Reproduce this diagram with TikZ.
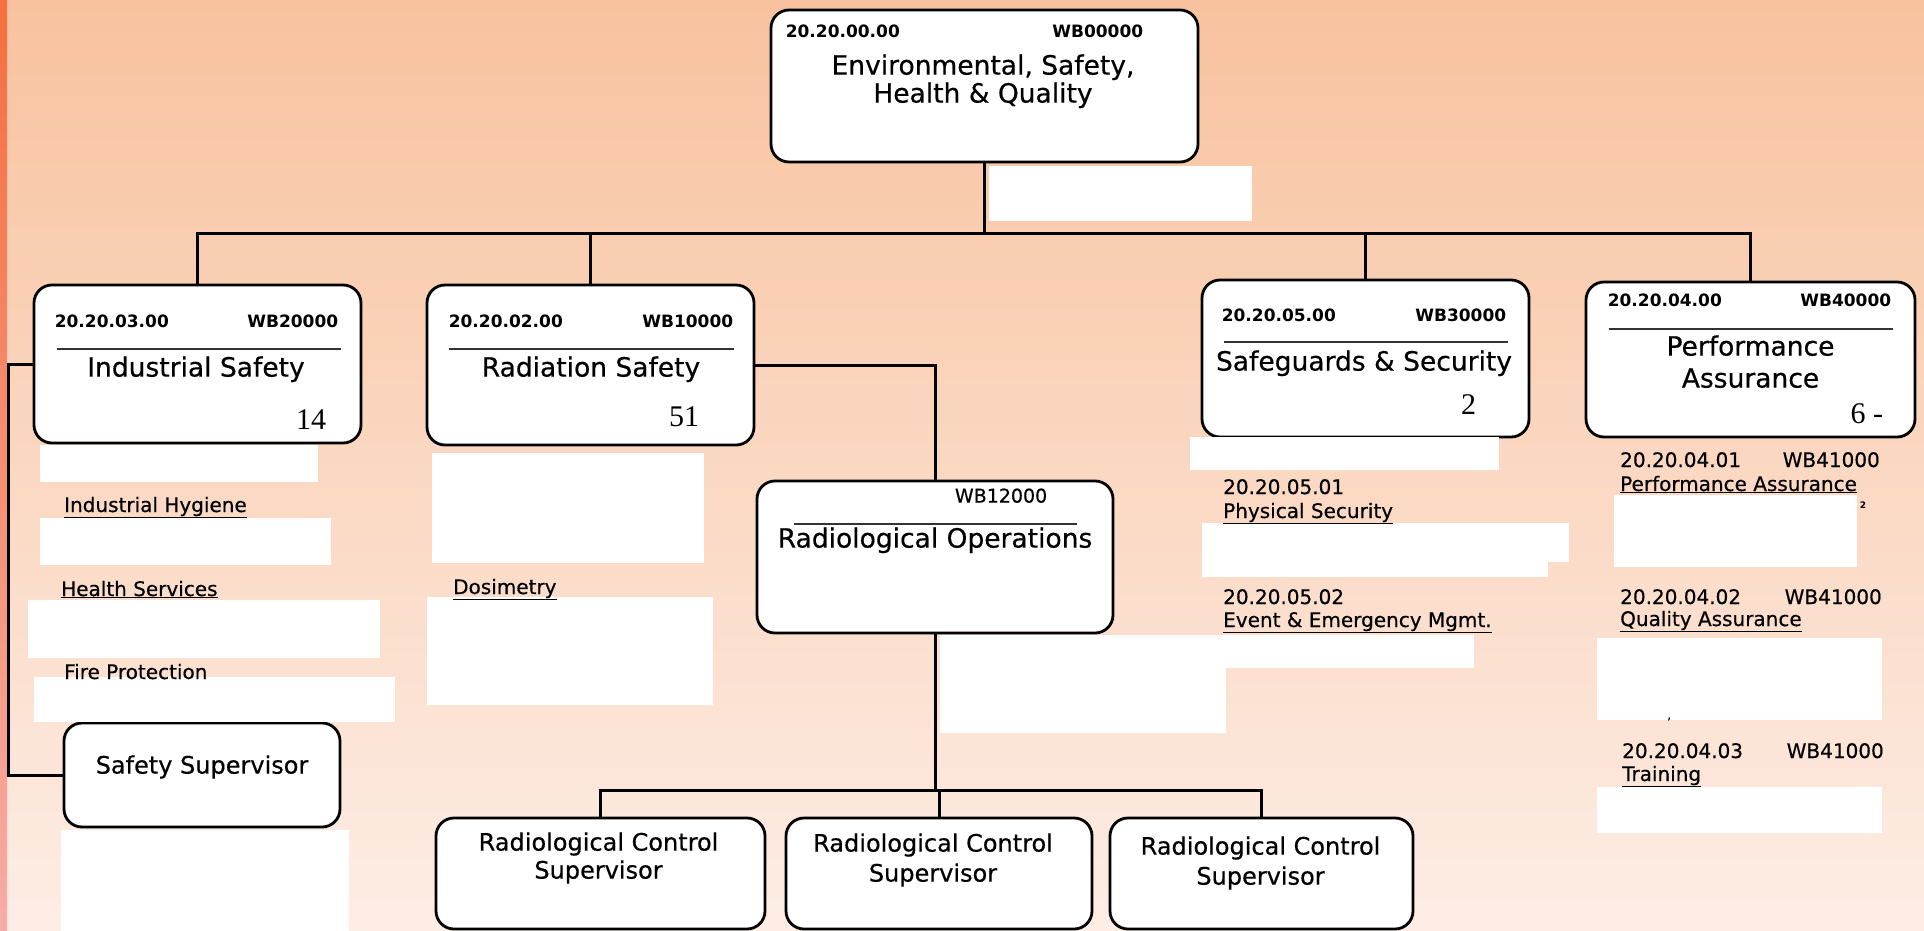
\documentclass[tikz,border=0pt]{standalone}
\usepackage{fontspec}
\setmainfont{DejaVu Sans}[UprightFeatures={FakeBold=0.5}]
\newfontfamily\numfont{Liberation Serif}
\usepackage{tikz}
\usetikzlibrary{calc}
\usetikzlibrary{positioning}
\definecolor{bgtop}{HTML}{F8C29E}
\definecolor{bgmid}{HTML}{FAD2BA}
\definecolor{bgbot}{HTML}{FDEDE5}
\definecolor{edgetop}{HTML}{F4703E}
\definecolor{edgebot}{HTML}{F6ACA6}
\tikzstyle{unitnode} = [draw, line width=2.8pt, rounded corners=18pt, fill=white, inner sep=0pt]
\tikzstyle{redact} = [fill=white]
\tikzstyle{link} = [line width=3pt]
\tikzstyle{ruleline} = [line width=1.8pt, black!80]
\tikzstyle{codetext} = [font=\fontsize{17}{19}\selectfont\bfseries, inner sep=0pt]
\tikzstyle{titletext} = [font=\fontsize{26.5}{28}\selectfont, inner sep=0pt]
\tikzstyle{suptext} = [font=\fontsize{24}{26}\selectfont, inner sep=0pt]
\tikzstyle{subtext} = [font=\fontsize{20}{22}\selectfont, inner sep=0pt]
\tikzstyle{headcount} = [font=\fontsize{30}{32}\numfont, inner sep=0pt]

\begin{document}
\begin{tikzpicture}[x=1pt, y=-1pt]
\useasboundingbox (0,0) rectangle (1924,931);
% background
\shade[top color=bgtop, middle color=bgmid, bottom color=bgbot] (0,0) rectangle (1924,931);
\shade[top color=edgetop, bottom color=edgebot] (0,0) rectangle (7,931);

% boxes
\node[unitnode, minimum width=427pt, minimum height=152pt] (env_top) at (984.5,86) {};
\node[unitnode, minimum width=327pt, minimum height=158pt] (ind_safety) at (197.5,364) {};
\node[unitnode, minimum width=327pt, minimum height=160pt] (rad_safety) at (590.5,365) {};
\node[unitnode, minimum width=327pt, minimum height=157pt] (safe_sec) at (1365.5,358.5) {};
\node[unitnode, minimum width=329pt, minimum height=155pt] (perf_assur) at (1750.5,359.5) {};
\node[unitnode, minimum width=356pt, minimum height=152pt] (rad_ops) at (935,557) {};
\node[unitnode, minimum width=276pt, minimum height=104pt] (saf_sup) at (202,775) {};
\node[unitnode, minimum width=329pt, minimum height=111pt] (rc_sup1) at (600.5,873.5) {};
\node[unitnode, minimum width=306pt, minimum height=111pt] (rc_sup2) at (939,873.5) {};
\node[unitnode, minimum width=303pt, minimum height=111pt] (rc_sup3) at (1261.5,873.5) {};

% connectors
\coordinate (top_bus) at (984.5,233);
\draw[link] (env_top) -- (top_bus);
\draw[link] (top_bus) -| (ind_safety);
\draw[link] (top_bus) -| (rad_safety);
\draw[link] (top_bus) -| (safe_sec);
\draw[link] (top_bus) -| (perf_assur);
\draw[link] (rad_safety.east) -| (rad_ops);
\draw[link] (ind_safety.west) -- ++(-24,0) |- (saf_sup.west);
\coordinate (ops_bus) at (935,790);
\draw[link] (rad_ops) -- (ops_bus);
\draw[link] (ops_bus) -| (rc_sup1);
\draw[link] (ops_bus) -| (rc_sup2);
\draw[link] (ops_bus) -| (rc_sup3);

% blanked areas
\fill[redact] (989,166) rectangle (1252,221);
\fill[redact] (40,445) rectangle (318,482);
\fill[redact] (40,518) rectangle (331,565);
\fill[redact] (28,600) rectangle (380,658);
\fill[redact] (34,677) rectangle (395,722);
\fill[redact] (61,830) rectangle (349,931);
\fill[redact] (432,453) rectangle (704,563);
\fill[redact] (427,597) rectangle (713,705);
\fill[redact] (1190,437) rectangle (1499,470);
\fill[redact] (1202,523) rectangle (1569,562);
\fill[redact] (1202,560) rectangle (1548,577);
\fill[redact] (940,635) rectangle (1474,668);
\fill[redact] (940,666) rectangle (1226,733);
\fill[redact] (1614,495) rectangle (1857,567);
\fill[redact] (1597,638) rectangle (1882,720);
\fill[redact] (1597,787) rectangle (1882,833);

% top box
\node[codetext, anchor=base west] (env_code) at ($(env_top.north west)+(16,29)$) {20.20.00.00};
\node[codetext, anchor=base east] (env_wb) at ($(env_top.north east)+(-56,29)$) {WB00000};
\node[titletext, anchor=base] (env_title1) at ($(env_top.north)+(-1.5,66)$) {Environmental, Safety,};
\node[titletext, anchor=base] (env_title2) at ($(env_top.north)+(-1.5,94)$) {Health \& Quality};

% industrial safety
\node[codetext, anchor=base west] (ind_code) at ($(ind_safety.north west)+(22,44)$) {20.20.03.00};
\node[codetext, anchor=base east] (ind_wb) at ($(ind_safety.north east)+(-24,44)$) {WB20000};
\draw[ruleline] ($(ind_safety.north west)+(24,65)$) -- ($(ind_safety.north east)+(-21,65)$);
\node[titletext, anchor=base] (ind_title) at ($(ind_safety.north)+(-1.5,93)$) {Industrial Safety};
\node[headcount, anchor=base east] (ind_count) at ($(ind_safety.south east)+(-36,-15)$) {14};

% radiation safety
\node[codetext, anchor=base west] (rad_code) at ($(rad_safety.north west)+(23,44)$) {20.20.02.00};
\node[codetext, anchor=base east] (rad_wb) at ($(rad_safety.north east)+(-22,44)$) {WB10000};
\draw[ruleline] ($(rad_safety.north west)+(23,65)$) -- ($(rad_safety.north east)+(-21,65)$);
\node[titletext, anchor=base] (rad_title) at ($(rad_safety.north)+(0.5,93)$) {Radiation Safety};
\node[headcount, anchor=base east] (rad_count) at ($(rad_safety.south east)+(-56,-20)$) {51};

% safeguards & security
\node[codetext, anchor=base west] (sec_code) at ($(safe_sec.north west)+(21,43)$) {20.20.05.00};
\node[codetext, anchor=base east] (sec_wb) at ($(safe_sec.north east)+(-24,43)$) {WB30000};
\draw[ruleline] ($(safe_sec.north west)+(23,63)$) -- ($(safe_sec.north east)+(-22,63)$);
\node[titletext, anchor=base] (sec_title) at ($(safe_sec.north)+(-1.5,92)$) {Safeguards \& Security};
\node[headcount, anchor=base east] (sec_count) at ($(safe_sec.south east)+(-54,-24)$) {2};

% performance assurance
\node[codetext, anchor=base west] (perf_code) at ($(perf_assur.north west)+(23,26)$) {20.20.04.00};
\node[codetext, anchor=base east] (perf_wb) at ($(perf_assur.north east)+(-25,26)$) {WB40000};
\draw[ruleline] ($(perf_assur.north west)+(24,48)$) -- ($(perf_assur.north east)+(-23,48)$);
\node[titletext, anchor=base] (perf_title1) at ($(perf_assur.north)+(0,75)$) {Performance};
\node[titletext, anchor=base] (perf_title2) at ($(perf_assur.north)+(0,107)$) {Assurance};
\node[headcount, anchor=base east] (perf_count) at ($(perf_assur.south east)+(-33,-15)$) {6 -};

% radiological operations
\node[font=\fontsize{19}{21}\selectfont, inner sep=0pt, anchor=base east] (ops_wb) at ($(rad_ops.north east)+(-67,23)$) {WB12000};
\draw[ruleline] ($(rad_ops.north west)+(38,44)$) -- ($(rad_ops.north east)+(-37,44)$);
\node[titletext, anchor=base] (ops_title) at ($(rad_ops.north)+(0,68)$) {Radiological Operations};

% supervisors
\node[suptext, anchor=base] (saf_sup_txt) at ($(saf_sup.north)+(0,52)$) {Safety Supervisor};
\node[suptext, anchor=base] (rc_sup1_a) at ($(rc_sup1.north)+(-2,34)$) {Radiological Control};
\node[suptext, anchor=base] (rc_sup1_b) at ($(rc_sup1.north)+(-2,62)$) {Supervisor};
\node[suptext, anchor=base] (rc_sup2_a) at ($(rc_sup2.north)+(-6,35)$) {Radiological Control};
\node[suptext, anchor=base] (rc_sup2_b) at ($(rc_sup2.north)+(-6,65)$) {Supervisor};
\node[suptext, anchor=base] (rc_sup3_a) at ($(rc_sup3.north)+(-1,38)$) {Radiological Control};
\node[suptext, anchor=base] (rc_sup3_b) at ($(rc_sup3.north)+(-1,68)$) {Supervisor};

% sub units
\node[subtext, anchor=base west] (ind_hyg) at (64,512) {\underline{Industrial Hygiene}};
\node[subtext, anchor=base west] (health_srv) at (61,596) {\underline{Health Services}};
\node[subtext, anchor=base west] (fire_prot) at (64,679) {Fire Protection};
\node[subtext, anchor=base west] (dosim) at (453,594) {\underline{Dosimetry}};
\node[subtext, anchor=base west] (phys_code) at (1223,494) {20.20.05.01};
\node[subtext, anchor=base west] (phys_sec) at (1223,518) {\underline{Physical Security}};
\node[subtext, anchor=base west] (event_code) at (1223,604) {20.20.05.02};
\node[subtext, anchor=base west] (event_mgmt) at (1223,627) {\underline{Event \& Emergency Mgmt.}};
\node[subtext, anchor=base west] (pa_code) at (1620,467) {20.20.04.01};
\node[subtext, anchor=base east] (pa_wb) at (1880,467) {WB41000};
\node[subtext, anchor=base west] (pa_sub) at (1620,491) {\underline{Performance Assurance}};
\node[font=\fontsize{9}{9}\selectfont\bfseries, inner sep=0pt] (pa_note) at (1863,505) {2};
\node[subtext, anchor=base west] (qa_code) at (1620,604) {20.20.04.02};
\node[subtext, anchor=base east] (qa_wb) at (1882,604) {WB41000};
\node[subtext, anchor=base west] (qa_sub) at (1620,626) {\underline{Quality Assurance}};
\node[font=\fontsize{12}{12}\selectfont, inner sep=0pt] (qa_mark) at (1669,722) {'};
\node[subtext, anchor=base west] (trn_code) at (1622,758) {20.20.04.03};
\node[subtext, anchor=base east] (trn_wb) at (1884,758) {WB41000};
\node[subtext, anchor=base west] (trn_sub) at (1622,781) {\underline{Training}};
\end{tikzpicture}
\end{document}
